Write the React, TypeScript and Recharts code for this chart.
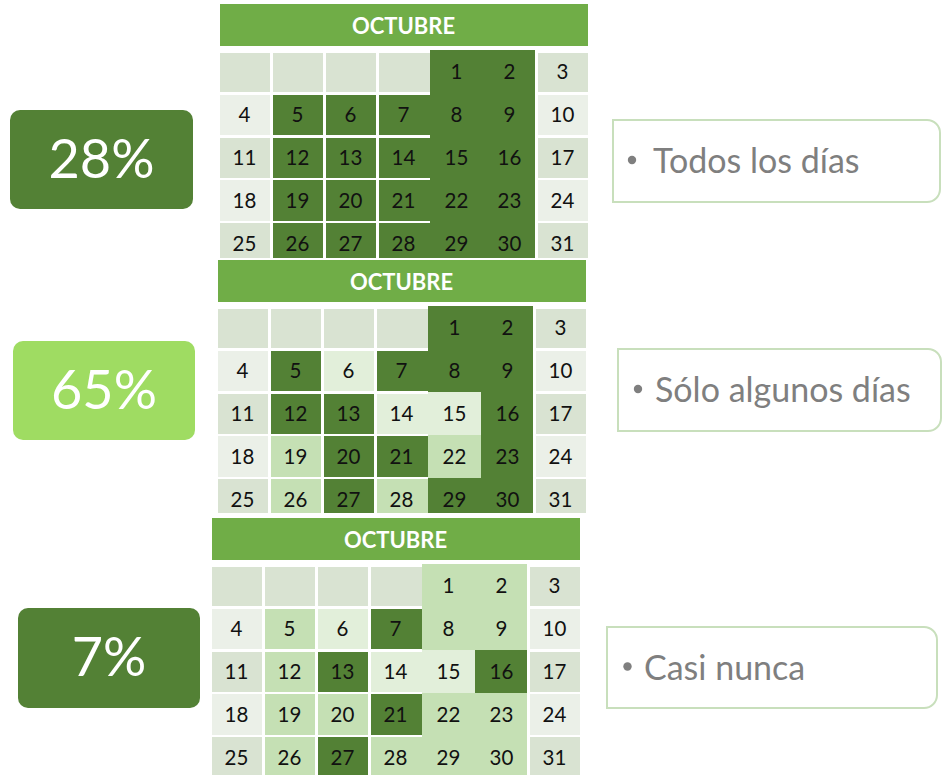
import React from 'react';
import { ScatterChart, Scatter, XAxis, YAxis, ReferenceArea } from 'recharts';

// ---------- data ----------
const MONTH_TITLE = 'OCTUBRE';
const DAYS = [1, 2, 3, 4, 5, 6, 7, 8, 9, 10, 11, 12, 13, 14, 15, 16, 17, 18, 19, 20, 21, 22, 23, 24, 25, 26, 27, 28, 29, 30, 31];
const FIRST_DAY_COLUMN = 5; // week starts Monday, day 1 falls on Friday
const LEADING_BLANK_COLUMNS = [1, 2, 3, 4];
const PERCENTAGES = [28, 65, 7];
const CATEGORIES = ['Todos los días', 'Sólo algunos días', 'Casi nunca'];
// D = dark, M = medium, L = light, B = plain banded background
const SHADES_TODOS = ['D', 'D', 'B', 'B', 'D', 'D', 'D', 'D', 'D', 'B', 'B', 'D', 'D', 'D', 'D', 'D', 'B', 'B', 'D', 'D', 'D', 'D', 'D', 'B', 'B', 'D', 'D', 'D', 'D', 'D', 'B'];
const SHADES_ALGUNOS = ['D', 'D', 'B', 'B', 'D', 'L', 'D', 'D', 'D', 'B', 'B', 'D', 'D', 'L', 'L', 'D', 'B', 'B', 'M', 'D', 'D', 'M', 'D', 'B', 'B', 'M', 'D', 'M', 'D', 'D', 'B'];
const SHADES_NUNCA = ['M', 'M', 'B', 'B', 'M', 'L', 'D', 'M', 'M', 'B', 'B', 'M', 'D', 'L', 'L', 'D', 'B', 'B', 'M', 'M', 'D', 'M', 'M', 'B', 'B', 'M', 'D', 'M', 'M', 'M', 'B'];
const CALENDAR_SHADES = [SHADES_TODOS, SHADES_ALGUNOS, SHADES_NUNCA];

// ---------- styling ----------
const FONT = 'Lato, "Open Sans", sans-serif';
const SHADE_COLORS: Record<string, string> = { D: '#538135', M: '#C5E0B4', L: '#E2EFDA' };
const BAND_ODD = '#D9E3D2';
const BAND_EVEN = '#EBF0E8';
const HEADER_COLOR = '#70AD47';
const PERCENT_COLORS = ['#538135', '#9FDC62', '#538135'];
const LABEL_BORDER = '#C8DFBC';
const LABEL_TEXT = '#7F7F7F';

const CAL_W = 371;
const COL_PX = CAL_W / 7;
const ROW_PX = 42.9;
const Y_TOP = -0.585;
const HEADER_BOTTOM = Y_TOP + 42 / ROW_PX;

const CAL_LAYOUT = [
  { left: 218, top: 4, height: 254 },
  { left: 216, top: 260, height: 253 },
  { left: 210, top: 518, height: 257 },
];
const PERCENT_BOXES = [
  { x: 10, y: 110, w: 183, h: 99 },
  { x: 13, y: 341, w: 182, h: 99 },
  { x: 18, y: 608, w: 182, h: 100 },
];
const LABEL_BOXES = [
  { x: 613, y: 120, w: 327, h: 82, bullet: 631, text: 653 },
  { x: 618, y: 349, w: 323, h: 82, bullet: 637, text: 655 },
  { x: 607, y: 627, w: 330, h: 81, bullet: 626.5, text: 644 },
];

type Cell = { col: number; row: number; day: number | null; shade: string };

function buildCells(shades: string[]): Cell[] {
  const cells: Cell[] = LEADING_BLANK_COLUMNS.map((col) => ({ col, row: 1, day: null, shade: 'B' }));
  DAYS.forEach((day, i) => {
    const idx = FIRST_DAY_COLUMN - 1 + i;
    cells.push({ col: (idx % 7) + 1, row: Math.floor(idx / 7) + 1, day, shade: shades[i] });
  });
  return cells;
}

function CellShape(props: any) {
  const { cx, cy, payload } = props;
  if (cx == null || cy == null || !payload) return null;
  const { col, row, day, shade } = payload as Cell;
  const fill = shade === 'B' ? (row % 2 === 1 ? BAND_ODD : BAND_EVEN) : SHADE_COLORS[shade];
  const merged = col === 5 || col === 6;
  let x0 = cx - COL_PX / 2 + 1.5;
  let x1 = cx + COL_PX / 2 - 1.5;
  if (col === 4 || col === 5) x1 = cx + COL_PX / 2;
  if (col === 5 || col === 6) x0 = cx - COL_PX / 2;
  let y0 = cy - ROW_PX / 2 + 1.25;
  let y1 = cy + ROW_PX / 2 - 1.25;
  if (merged) {
    y0 = cy - ROW_PX / 2;
    y1 = cy + ROW_PX / 2;
    if (row === 1) y0 -= 0.5;
  } else if (row === 1) {
    y0 += 1;
  }
  return (
    <g>
      <rect x={x0} y={y0} width={x1 - x0} height={y1 - y0} fill={fill} shapeRendering="crispEdges" />
      {day != null && (
        <text x={cx} y={cy + 7.4} textAnchor="middle" fontFamily={FONT} fontSize={20.5} fill="#111111">
          {day}
        </text>
      )}
    </g>
  );
}

function HeaderShape(props: any) {
  const { x, y, width, height } = props;
  if (x == null || y == null) return null;
  return (
    <g>
      <rect x={x + 1.5} y={y} width={width - 3} height={height} fill={HEADER_COLOR} shapeRendering="crispEdges" />
      <text
        x={x + width / 2}
        y={y + height / 2 + 8.5}
        textAnchor="middle"
        fontFamily={FONT}
        fontWeight={700}
        fontSize={22}
        fill="#FFFFFF"
      >
        {MONTH_TITLE}
      </text>
    </g>
  );
}

function CalendarChart({ shades, left, top, height }: { shades: string[]; left: number; top: number; height: number }) {
  const data = buildCells(shades);
  const yMax = Y_TOP + height / ROW_PX;
  return (
    <div style={{ position: 'absolute', left, top, width: CAL_W, height }}>
      <ScatterChart width={CAL_W} height={height} margin={{ top: 0, right: 0, bottom: 0, left: 0 }}>
        <XAxis type="number" dataKey="col" domain={[0.5, 7.5]} hide allowDataOverflow />
        <YAxis type="number" dataKey="row" domain={[Y_TOP, yMax]} reversed hide allowDataOverflow />
        <ReferenceArea x1={0.5} x2={7.5} y1={Y_TOP} y2={HEADER_BOTTOM} shape={HeaderShape} ifOverflow="visible" />
        <Scatter data={data} shape={CellShape} isAnimationActive={false} />
      </ScatterChart>
    </div>
  );
}

function rightRoundedPath(x: number, y: number, w: number, h: number, r: number) {
  const x1 = x + w;
  const y1 = y + h;
  return `M${x},${y} H${x1 - r} A${r},${r} 0 0 1 ${x1},${y + r} V${y1 - r} A${r},${r} 0 0 1 ${x1 - r},${y1} H${x} Z`;
}

export default function App() {
  return (
    <div style={{ position: 'absolute', left: 0, top: 0, width: 942, height: 775, background: '#FFFFFF', overflow: 'hidden' }}>
      {CALENDAR_SHADES.map((shades, i) => (
        <CalendarChart key={i} shades={shades} {...CAL_LAYOUT[i]} />
      ))}
      <svg width={942} height={775} style={{ position: 'absolute', left: 0, top: 0, pointerEvents: 'none' }}>
        {PERCENTAGES.map((p, i) => {
          const b = PERCENT_BOXES[i];
          return (
            <g key={`p${i}`}>
              <rect x={b.x} y={b.y} width={b.w} height={b.h} rx={10} ry={10} fill={PERCENT_COLORS[i]} />
              <text x={b.x + b.w / 2} y={b.y + 68} textAnchor="middle" fontFamily={FONT} fontSize={54} fill="#FFFFFF">
                {`${p}%`}
              </text>
            </g>
          );
        })}
        {CATEGORIES.map((c, i) => {
          const b = LABEL_BOXES[i];
          const base = b.y + b.h / 2 + 12;
          return (
            <g key={`c${i}`}>
              <path d={rightRoundedPath(b.x, b.y, b.w, b.h, 13)} fill="#FFFFFF" stroke={LABEL_BORDER} strokeWidth={2} />
              <circle cx={b.bullet + 1} cy={b.y + b.h / 2 - 1} r={4.2} fill={LABEL_TEXT} />
              <text x={b.text} y={base} fontFamily={FONT} fontSize={34} fill={LABEL_TEXT}>
                {c}
              </text>
            </g>
          );
        })}
      </svg>
    </div>
  );
}
